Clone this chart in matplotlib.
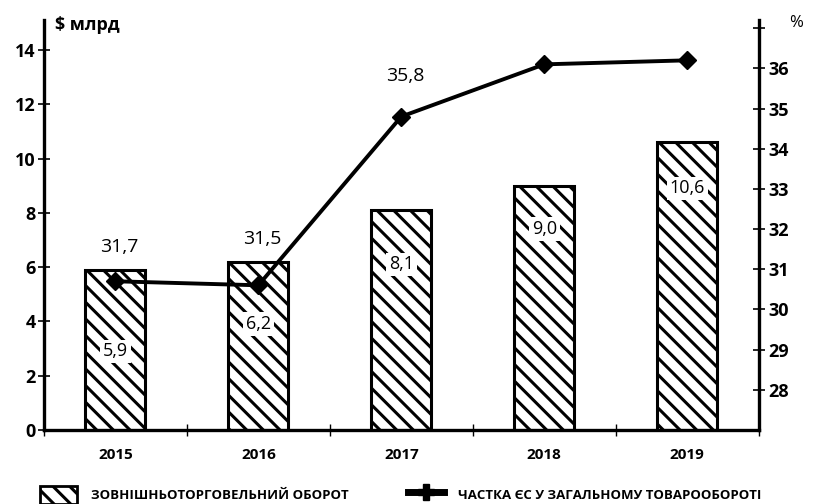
import matplotlib.pyplot as plt
import matplotlib.lines as mlines
import matplotlib.patches as mpatches

plt.rcParams['font.family'] = ['Open Sans', 'DejaVu Sans']
plt.rcParams['font.weight'] = 'bold'
plt.rcParams['hatch.linewidth'] = 2.2

# data
years = ['2015', '2016', '2017', '2018', '2019']
turnover = [5.9, 6.2, 8.1, 9.0, 10.6]            # $ bn (bars)
turnover_labels = ['5,9', '6,2', '8,1', '9,0', '10,6']
share = [30.7, 30.6, 34.8, 36.1, 36.2]           # % as drawn in the picture
share_labels = ['31,7', '31,5', '35,8']

# where the labels sit
bar_label_y = [2.9, 3.9, 6.1, 7.4, 8.9]
share_label_y = [31.55, 31.75, 35.8]

x = list(range(len(years)))

fig = plt.figure(figsize=(8.14, 5.04), dpi=100)
ax = fig.add_axes([0.054, 0.147, 0.878, 0.813])
ax2 = ax.twinx()

ax.bar(x, turnover, width=0.42, color='white', edgecolor='black',
       linewidth=2.2, hatch='\\\\', zorder=2)
for xi, y, lab in zip(x, bar_label_y, turnover_labels):
    ax.text(xi, y, lab, ha='center', va='center', fontsize=13,
            fontweight='normal',
            bbox=dict(facecolor='white', edgecolor='none', pad=2), zorder=3)

ax2.plot(x, share, color='black', linewidth=2.8, marker='D', markersize=9,
         zorder=4)
for xi, y, lab in zip(x, share_label_y, share_labels):
    ax2.text(xi + 0.03, y, lab, ha='center', va='center',
             fontsize=14, fontweight='normal')

ax.set_xlim(-0.5, 4.5)
ax.set_ylim(0, 15.1)
ax2.set_ylim(27, 37.2)

ax.set_yticks(range(0, 15, 2))
ax2.set_yticks(range(28, 38))
ax2.set_yticklabels([str(v) for v in range(28, 37)] + [''])

ax.set_xticks(x)
ax.set_xticklabels(years, fontsize=11)
ax.set_xticks([i + 0.5 for i in range(-1, 5)], minor=True)
ax.tick_params(axis='x', which='major', length=0, pad=13)
ax.tick_params(axis='x', which='minor', direction='inout', length=8, width=1)
ax.tick_params(axis='y', direction='inout', length=8, width=1.2,
               labelsize=13, pad=2)
ax2.tick_params(axis='y', direction='inout', length=8, width=1.2,
                labelsize=13, pad=3)

for a in (ax, ax2):
    a.spines['top'].set_visible(False)
    for s in ('left', 'right', 'bottom'):
        a.spines[s].set_linewidth(2.4)
ax.spines['right'].set_visible(False)
ax2.spines['left'].set_visible(False)
ax2.spines['bottom'].set_visible(False)

fig.text(0.068, 0.95, '$ млрд', fontsize=13, ha='left', va='center')
fig.text(0.978, 0.955, '%', fontsize=12, ha='center', va='center',
         fontweight='normal')

# legend along the bottom edge
h1 = mpatches.Patch(facecolor='white', edgecolor='black', hatch='\\\\',
                    linewidth=2)
h2 = mlines.Line2D([], [], color='black', linewidth=5, marker='P',
                   markersize=12)
fig.legend([h1, h2],
           ['ЗОВНІШНЬОТОРГОВЕЛЬНИЙ ОБОРОТ',
            'ЧАСТКА ЄС У ЗАГАЛЬНОМУ ТОВАРООБОРОТІ'],
           loc='lower left', bbox_to_anchor=(0.035, -0.024), ncol=2,
           frameon=False, fontsize=9.5, columnspacing=4.5,
           handlelength=2.8, handleheight=1.8, handletextpad=1.0)

fig.savefig('out.png', dpi=100)
